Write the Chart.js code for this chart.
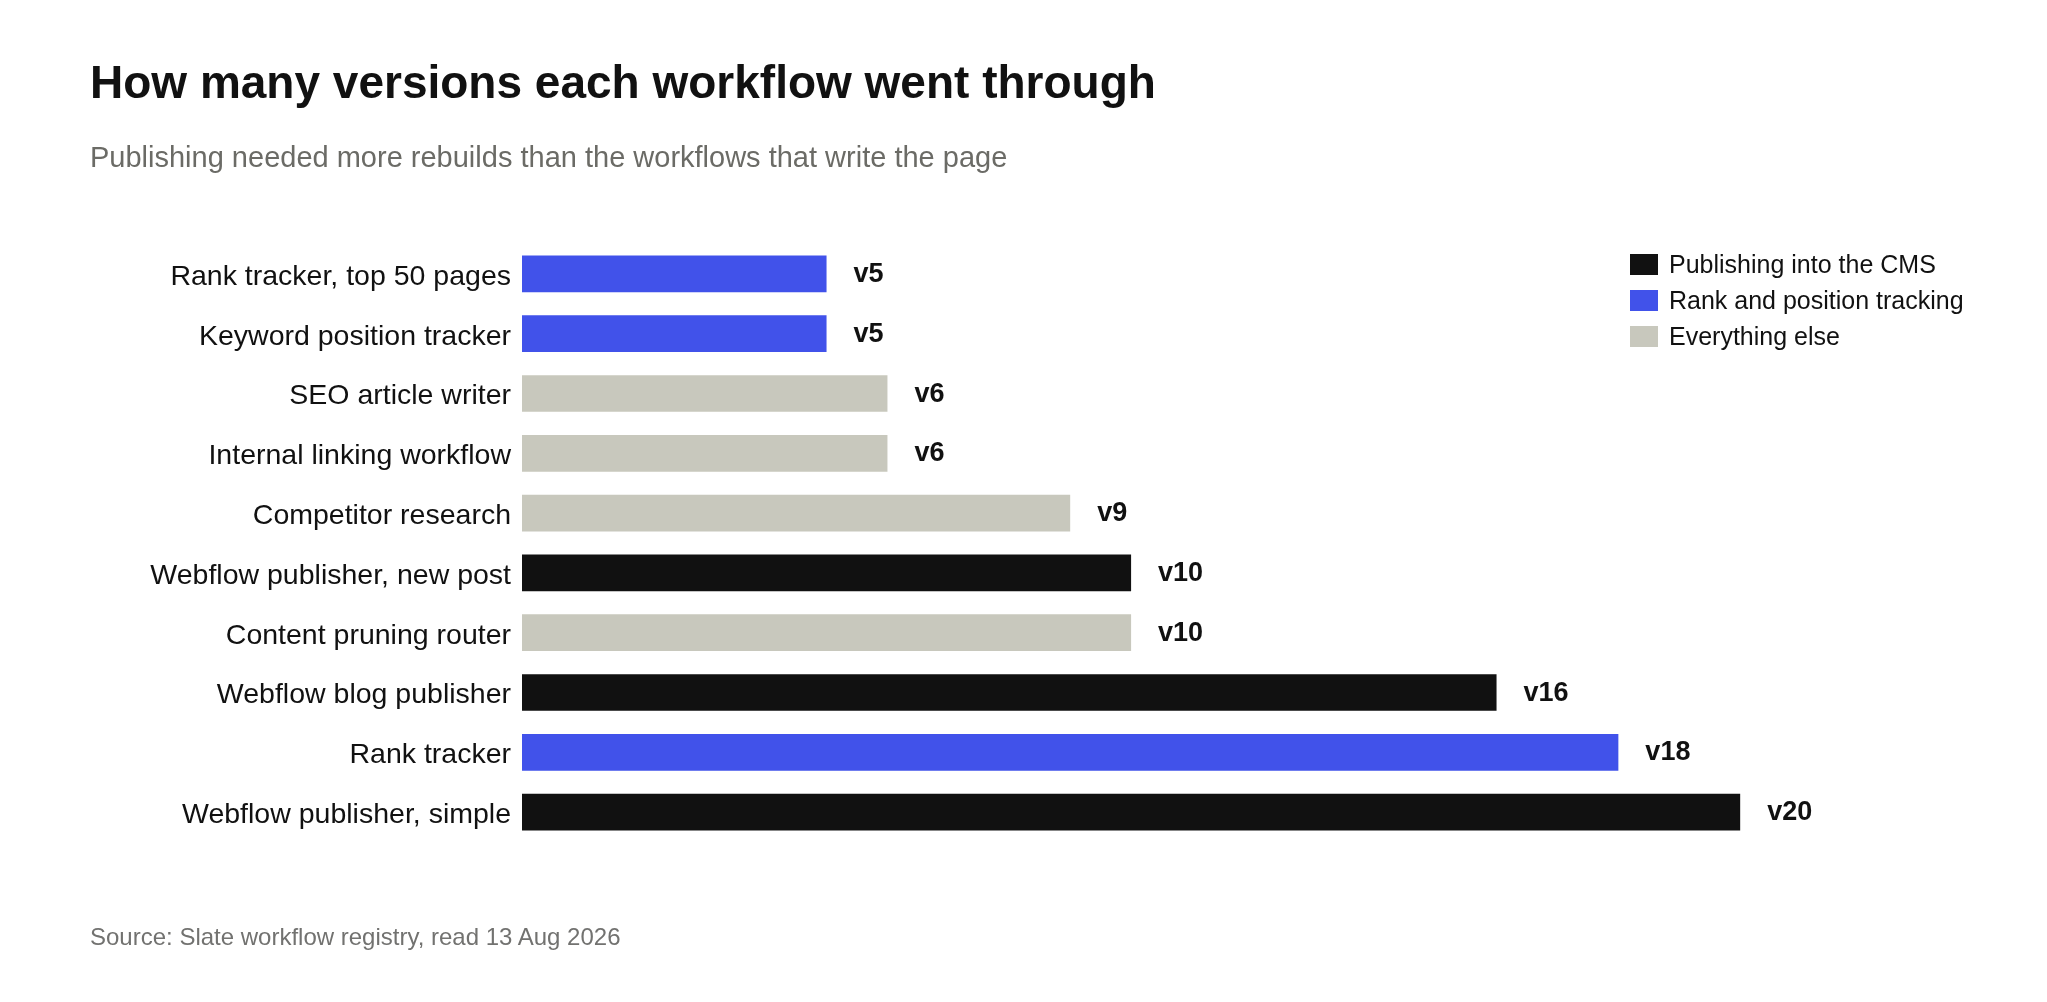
<!DOCTYPE html>
<html>
<head>
<meta charset="utf-8">
<title>Workflow versions</title>
<script src="https://cdn.jsdelivr.net/npm/chart.js@4.4.1/dist/chart.umd.min.js"></script>
<style>
  html, body { margin: 0; padding: 0; background: #ffffff; }
  body { font-family: "Liberation Sans", Arial, Helvetica, sans-serif; color: #111111; }
  #wrap { position: relative; width: 2047px; height: 1002px; overflow: hidden; }
  #chart { position: absolute; left: 0; top: 0; }
  .txt { position: absolute; white-space: nowrap; line-height: 1; }
  #title { left: 90px; top: 59px; font-size: 46px; font-weight: bold; color: #111111; }
  #subtitle { left: 90px; top: 143px; font-size: 29px; color: #6b6b66; }
  #source { left: 90px; top: 925px; font-size: 24px; color: #727270; }
  .legend-item { position: absolute; left: 1630px; display: flex; align-items: flex-start; }
  .legend-box { width: 28px; height: 21px; margin-right: 11px; }
  .legend-label { font-size: 25px; line-height: 21px; color: #111111; white-space: nowrap; }
</style>
</head>
<body>
<div id="wrap">
  <canvas id="chart" width="2047" height="1002"></canvas>
  <div class="txt" id="title">How many versions each workflow went through</div>
  <div class="txt" id="subtitle">Publishing needed more rebuilds than the workflows that write the page</div>
  <div class="txt" id="source">Source: Slate workflow registry, read 13 Aug 2026</div>
  <div id="legend"></div>
</div>
<script>
// --- DỮ LIỆU ---
const categories = [
    'Rank tracker, top 50 pages',
    'Keyword position tracker',
    'SEO article writer',
    'Internal linking workflow',
    'Competitor research',
    'Webflow publisher, new post',
    'Content pruning router',
    'Webflow blog publisher',
    'Rank tracker',
    'Webflow publisher, simple'
];
const versions = [5, 5, 6, 6, 9, 10, 10, 16, 18, 20];

// nhóm của từng workflow: 0 = CMS, 1 = rank tracking, 2 = còn lại
const groupOf = [1, 1, 2, 2, 2, 0, 2, 0, 1, 0];
const groupNames = ['Publishing into the CMS', 'Rank and position tracking', 'Everything else'];
const groupColors = ['#111111', '#4152ea', '#c8c8bd'];

// --- LEGEND (HTML) ---
function renderLegend() {
    const box = document.getElementById('legend');
    groupNames.forEach((name, i) => {
        const top = 253.5 + i * 36.3;
        box.insertAdjacentHTML('beforeend', `
            <div class="legend-item" style="top:${top}px">
                <div class="legend-box" style="background:${groupColors[i]}"></div>
                <div class="legend-label">${name}</div>
            </div>`);
    });
}

// Plugin vẽ nhãn "vN" ở cuối thanh
const valueLabels = {
    id: 'valueLabels',
    afterDatasetsDraw(chart) {
        const ctx = chart.ctx;
        const meta = chart.getDatasetMeta(0);
        ctx.save();
        ctx.font = 'bold 27px "Liberation Sans", Arial, sans-serif';
        ctx.fillStyle = '#111111';
        ctx.textAlign = 'left';
        ctx.textBaseline = 'alphabetic';
        meta.data.forEach((bar, i) => {
            ctx.fillText('v' + versions[i], bar.x + 27, bar.y + 8);
        });
        ctx.restore();
    }
};

function renderChart() {
    Chart.defaults.font.family = '"Liberation Sans", Arial, Helvetica, sans-serif';
    Chart.defaults.color = '#111111';

    const ctx = document.getElementById('chart').getContext('2d');
    new Chart(ctx, {
        type: 'bar',
        data: {
            labels: categories,
            datasets: [{
                data: versions,
                backgroundColor: groupOf.map(g => groupColors[g]),
                borderWidth: 0,
                categoryPercentage: 1,
                barPercentage: 0.614
            }]
        },
        options: {
            indexAxis: 'y',
            responsive: false,
            devicePixelRatio: 1,
            animation: false,
            layout: { padding: { left: 90, top: 244, right: 185, bottom: 160 } },
            scales: {
                x: { min: 0, max: 22, display: false },
                y: {
                    grid: { display: false, drawTicks: false },
                    border: { display: false },
                    ticks: { font: { size: 28.5 }, color: '#111111', padding: 11, labelOffset: 3 },
                    afterFit: (scale) => { scale.width = 432; }
                }
            },
            plugins: {
                legend: { display: false },
                title: { display: false },
                tooltip: { enabled: false }
            }
        },
        plugins: [valueLabels]
    });
}

document.addEventListener('DOMContentLoaded', function() {
    renderLegend();
    renderChart();
});
</script>
</body>
</html>
